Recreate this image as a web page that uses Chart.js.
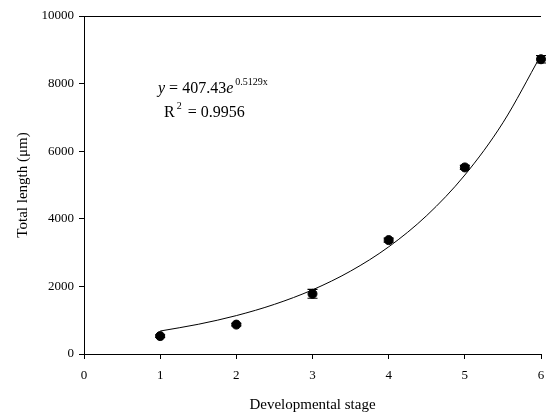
<!DOCTYPE html>
<html>
<head>
<meta charset="utf-8">
<script src="https://cdn.jsdelivr.net/npm/chart.js@4"></script>
<style>
  html, body { margin: 0; padding: 0; background: #fff; }
  #wrap { width: 550px; height: 412px; }
</style>
</head>
<body>
<div id="wrap"><canvas id="myChart"></canvas></div>
<script>
  // measured points (stage, mean length, error)
  const stages = [1, 2, 3, 4, 5, 6];
  const lengths = [530, 870, 1780, 3370, 5520, 8720];
  const errors = [40, 35, 130, 60, 60, 110];

  // fitted curve (y = 407.43e^0.5129x)
  const fitX = [1, 1.5, 2, 2.5, 3, 3.5, 4, 4.5, 5, 5.5, 6];
  const fitY = [680, 879, 1136, 1469, 1898, 2453, 3170, 4097, 5295, 6842, 8843];

  const xTicks = [0, 1, 2, 3, 4, 5, 6];
  const yTicks = [0, 2000, 4000, 6000, 8000, 10000];

  const serif = "'Liberation Serif', 'DejaVu Serif', serif";

  const errorBars = {
    id: 'errorBars',
    afterDatasetsDraw(chart) {
      const ctx = chart.ctx;
      const xs = chart.scales.x, ys = chart.scales.y;
      ctx.save();
      ctx.strokeStyle = '#000';
      ctx.lineWidth = 1.2;
      stages.forEach((s, i) => {
        const px = xs.getPixelForValue(s);
        const top = ys.getPixelForValue(lengths[i] + errors[i]);
        const bot = ys.getPixelForValue(lengths[i] - errors[i]);
        ctx.beginPath();
        ctx.moveTo(px, top); ctx.lineTo(px, bot);
        ctx.moveTo(px - 5, top); ctx.lineTo(px + 5, top);
        ctx.moveTo(px - 5, bot); ctx.lineTo(px + 5, bot);
        ctx.stroke();
      });
      ctx.restore();
    }
  };

  const equation = {
    id: 'equation',
    afterDraw(chart) {
      const ctx = chart.ctx;
      const a = chart.chartArea;
      ctx.save();
      ctx.fillStyle = '#000';
      ctx.textBaseline = 'alphabetic';
      let x = a.left + 74, y = a.top + 77;
      ctx.font = 'italic 16px ' + serif;
      ctx.fillText('y', x, y); x += ctx.measureText('y').width;
      ctx.font = '16px ' + serif;
      const mid = ' = 407.43';
      ctx.fillText(mid, x, y); x += ctx.measureText(mid).width;
      ctx.font = 'italic 16px ' + serif;
      ctx.fillText('e', x, y); x += ctx.measureText('e').width + 2;
      ctx.font = '10px ' + serif;
      ctx.fillText('0.5129x', x, y - 8);

      x = a.left + 80; y = a.top + 101;
      ctx.font = '16px ' + serif;
      ctx.fillText('R', x, y); x += ctx.measureText('R').width + 2;
      ctx.font = '10px ' + serif;
      ctx.fillText('2', x, y - 8); x += ctx.measureText('2').width + 2;
      ctx.font = '16px ' + serif;
      ctx.fillText(' = 0.9956', x, y);

      // top frame line
      ctx.strokeStyle = '#000';
      ctx.lineWidth = 1;
      ctx.beginPath();
      ctx.moveTo(a.left, a.top + 0.5);
      ctx.lineTo(a.right, a.top + 0.5);
      ctx.stroke();
      ctx.restore();
    }
  };

  const data = {
    datasets: [{
      type: 'line',
      label: 'fit',
      data: fitX.map((x, i) => ({ x: x, y: fitY[i] })),
      borderColor: '#000',
      borderWidth: 1,
      pointRadius: 0,
      cubicInterpolationMode: 'monotone',
      fill: false
    }, {
      type: 'scatter',
      label: 'stage',
      data: stages.map((s, i) => ({ x: s, y: lengths[i] })),
      backgroundColor: '#000',
      borderColor: '#000',
      pointRadius: 4.5,
      clip: false
    }]
  };

  const config = {
    type: 'scatter',
    data: data,
    plugins: [errorBars, equation],
    options: {
      responsive: false,
      animation: false,
      layout: { autoPadding: false, padding: { top: 16, right: 9, left: 0, bottom: 0 } },
      plugins: { legend: { display: false }, tooltip: { enabled: false } },
      scales: {
        x: {
          type: 'linear',
          min: 0, max: 6,
          afterBuildTicks: (s) => { s.ticks = xTicks.map(v => ({ value: v })); },
          afterFit: (s) => { s.height = 58; s.paddingRight = 0; s.paddingLeft = 0; },
          grid: { drawOnChartArea: false, tickLength: 5, color: '#000' },
          border: { color: '#000', width: 1 },
          ticks: { color: '#000', font: { family: serif, size: 13 }, padding: 9,
                   callback: (v) => String(v) },
          title: { display: true, text: 'Developmental stage', color: '#000',
                   font: { family: serif, size: 15 }, padding: { top: 10, bottom: -2 } }
        },
        y: {
          min: 0, max: 10000,
          afterBuildTicks: (s) => { s.ticks = yTicks.map(v => ({ value: v })); },
          afterFit: (s) => { s.width = 84; },
          grid: { drawOnChartArea: false, tickLength: 5, color: '#000' },
          border: { color: '#000', width: 1 },
          ticks: { color: '#000', font: { family: serif, size: 13 }, padding: 5,
                   callback: (v) => String(v) },
          title: { display: true, text: 'Total length (μm)', color: '#000',
                   font: { family: serif, size: 15 }, padding: { top: 14, bottom: 8 } }
        }
      }
    }
  };

  const canvas = document.getElementById('myChart');
  canvas.width = 550;
  canvas.height = 412;
  const myChart = new Chart(canvas, config);
</script>
</body>
</html>
